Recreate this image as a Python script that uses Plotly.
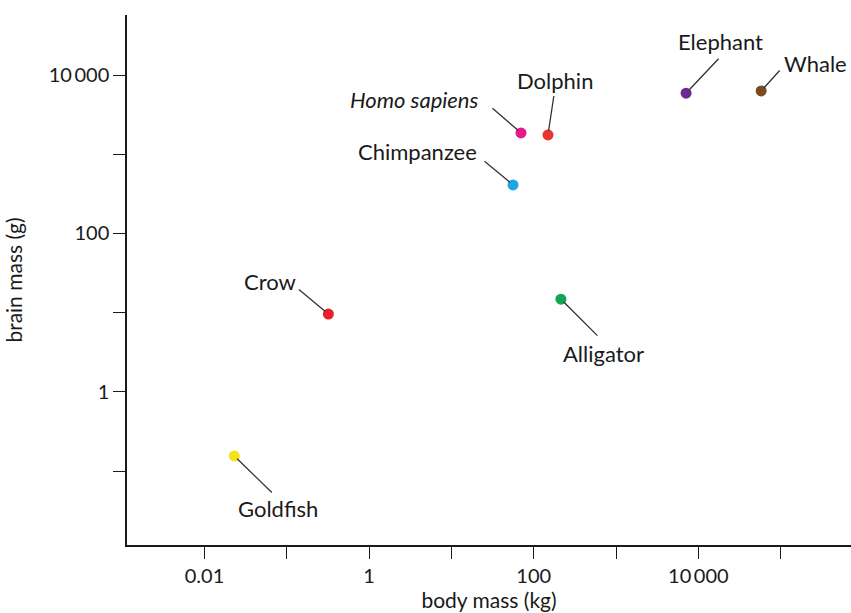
import math
import plotly.graph_objects as go

animals = ["Goldfish", "Crow", "Chimpanzee", "Homo sapiens", "Dolphin", "Alligator", "Elephant", "Whale"]
body_kg = [0.023, 0.32, 56, 70, 149, 214, 7100, 58000]
brain_g = [0.155, 9.6, 410, 1860, 1750, 14.8, 5900, 6300]
colors = ["#f6e21a", "#e8202a", "#1ea6e2", "#e6178f", "#e8352e", "#15a354", "#6b2a92", "#7a4a22"]
label_texts = ["Goldfish", "Crow", "Chimpanzee", "<i>Homo sapiens</i>", "Dolphin", "Alligator", "Elephant", "Whale"]
# label offsets (pixels from point) and leader-line tail offsets
label_dx = [44, -58, -96, -106, 7, 43, 34, 54]
label_dy = [53, -33, -33, -33, -54, 54, -52, -27]
lead_dx = [38, -30, -29, -29, 6, 37, 33, 19]
lead_dy = [37, -25, -24, -25, -40, 37, -35, -21]

x_tickvals = [0.01, 0.1, 1, 10, 100, 1000, 10000, 100000]
x_ticktext = ["0.01", "", "1", "", "100", "", "10\u2009000", ""]
y_tickvals = [0.1, 1, 10, 100, 1000, 10000]
y_ticktext = ["", "1", "", "100", "", "10\u2009000"]

FONT = "Lato"

fig = go.Figure()
fig.add_trace(go.Scatter(
    x=body_kg, y=brain_g, mode="markers",
    marker=dict(color=colors, size=11, line=dict(width=0)),
    hovertext=animals, showlegend=False, cliponaxis=False,
))

annotations = []
for i in range(len(animals)):
    lx = math.log10(body_kg[i])
    ly = math.log10(brain_g[i])
    annotations.append(dict(
        x=lx, y=ly, xref="x", yref="y", text=" ", showarrow=True,
        ax=lead_dx[i], ay=lead_dy[i], axref="pixel", ayref="pixel",
        arrowhead=0, arrowwidth=1.3, arrowcolor="#333333", standoff=4,
        font=dict(size=1), borderpad=0,
    ))
    annotations.append(dict(
        x=lx, y=ly, xref="x", yref="y", text=label_texts[i], showarrow=False,
        xshift=label_dx[i], yshift=-label_dy[i],
        font=dict(family=FONT, size=22, color="#1a1a1a"),
    ))

fig.update_layout(
    width=851, height=613,
    margin=dict(l=127, r=0, t=15, b=68, autoexpand=False),
    plot_bgcolor="white", paper_bgcolor="white",
    font=dict(family=FONT, size=20, color="#1a1a1a"),
    annotations=annotations,
    xaxis=dict(
        type="log", range=[-2.942, 5.855], automargin=False,
        tickvals=x_tickvals, ticktext=x_ticktext,
        ticks="outside", ticklen=12, tickwidth=1.3, tickcolor="#1a1a1a",
        showline=True, linecolor="#1a1a1a", linewidth=1.5,
        showgrid=False, zeroline=False,
        title=dict(text="body mass (kg)", standoff=4, font=dict(size=21)),
        tickfont=dict(size=20),
    ),
    yaxis=dict(
        type="log", range=[-1.934, 4.758], automargin=False,
        tickvals=y_tickvals, ticktext=y_ticktext,
        ticks="outside", ticklen=12, tickwidth=1.3, tickcolor="#1a1a1a",
        showline=True, linecolor="#1a1a1a", linewidth=1.5,
        showgrid=False, zeroline=False,
        title=dict(text="brain mass (g)", standoff=20, font=dict(size=21)),
        tickfont=dict(size=20),
    ),
)

fig.write_html("out.html", config={"displayModeBar": False},
               post_script="document.body.style.margin='0px';")
